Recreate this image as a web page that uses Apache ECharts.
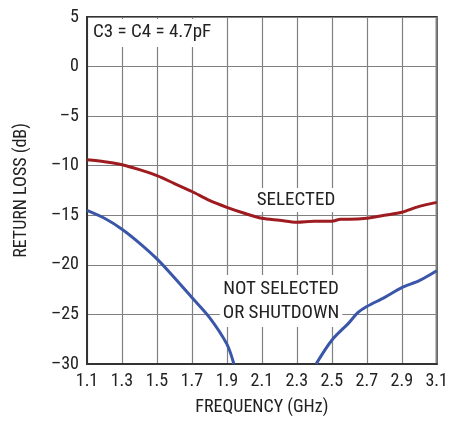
<!DOCTYPE html>
<html>
<head>
<meta charset="utf-8">
<script src="https://cdn.jsdelivr.net/npm/echarts@6/dist/echarts.min.js"></script>
<style>
  html, body { margin: 0; padding: 0; background: #fff; }
  #chart { width: 451px; height: 421px; }
</style>
</head>
<body>
<div id="chart"></div>
<script>
var FONT = "'Roboto Condensed', Roboto, sans-serif";

// frequency (GHz) vs return loss (dB)
var selFreq = [1.1, 1.2, 1.3, 1.4, 1.5, 1.6, 1.7, 1.8, 1.9, 2.0, 2.1, 2.2, 2.3, 2.4, 2.5, 2.55, 2.6, 2.7, 2.8, 2.9, 3.0, 3.1];
var selLoss = [-9.4, -9.6, -9.9, -10.4, -11.0, -11.8, -12.6, -13.5, -14.2, -14.8, -15.3, -15.5, -15.7, -15.6, -15.6, -15.4, -15.4, -15.3, -15.0, -14.7, -14.1, -13.7];

var offFreq = [1.1, 1.2, 1.3, 1.4, 1.5, 1.6, 1.7, 1.8, 1.9, 1.94, null, 2.41, 2.5, 2.6, 2.65, 2.7, 2.8, 2.9, 3.0, 3.1];
var offLoss = [-14.5, -15.3, -16.4, -17.8, -19.4, -21.3, -23.3, -25.3, -28.0, -30, null, -30, -27.6, -25.8, -24.8, -24.2, -23.3, -22.3, -21.6, -20.6];

var xTicks = [1.1, 1.3, 1.5, 1.7, 1.9, 2.1, 2.3, 2.5, 2.7, 2.9, 3.1];
var yTicks = [5, 0, -5, -10, -15, -20, -25, -30];

function pairs(xs, ys) {
    return xs.map(function (x, i) { return x === null ? [null, null] : [x, ys[i]]; });
}

var chart = echarts.init(document.getElementById("chart"));
var option = {
    animation: false,
    grid: { left: 87, top: 17, right: 12, bottom: 53, show: true, borderColor: "#333", borderWidth: 2 },
    xAxis: {
        type: "value",
        min: xTicks[0],
        max: xTicks[xTicks.length - 1],
        interval: 0.2,
        name: "FREQUENCY (GHz)",
        nameLocation: "middle",
        nameGap: 34,
        nameTextStyle: { fontFamily: FONT, fontSize: 18, color: "#222" },
        axisLine: { onZero: false, lineStyle: { color: "#333", width: 2 } },
        axisTick: { show: false },
        axisLabel: {
            fontFamily: FONT, fontSize: 18, color: "#222", margin: 8,
            formatter: function (v) { return v.toFixed(1); }
        },
        splitLine: { show: true, lineStyle: { color: "#808080", width: 1.2 } }
    },
    yAxis: {
        type: "value",
        min: yTicks[yTicks.length - 1],
        max: yTicks[0],
        interval: 5,
        name: "RETURN LOSS (dB)",
        nameLocation: "middle",
        nameGap: 57,
        nameTextStyle: { fontFamily: FONT, fontSize: 18, color: "#222" },
        axisLine: { show: true, onZero: false, lineStyle: { color: "#333", width: 2 } },
        axisTick: { show: false },
        axisLabel: {
            fontFamily: FONT, fontSize: 18, color: "#222", margin: 8,
            formatter: function (v) { return v < 0 ? "\u2013" + Math.abs(v) : String(v); }
        },
        splitLine: { show: true, lineStyle: { color: "#808080", width: 1.2 } }
    },
    graphic: [
        {
            type: "text", left: 90, top: 19, z: 20,
            style: {
                text: "C3 = C4 = 4.7pF", font: "19px " + FONT, fill: "#222",
                backgroundColor: "#fff", padding: [4, 5, 5, 3]
            }
        },
        {
            type: "text", x: 296, y: 200, z: 20,
            style: {
                text: "SELECTED", font: "19px " + FONT, fill: "#222",
                align: "center", verticalAlign: "middle",
                backgroundColor: "#fff", padding: [3, 2, 2, 2]
            }
        },
        {
            type: "text", x: 281, y: 301, z: 20,
            style: {
                text: "NOT SELECTED\nOR SHUTDOWN", font: "19px " + FONT, fill: "#222",
                align: "center", verticalAlign: "middle", lineHeight: 24,
                backgroundColor: "#fff", padding: [2, 3, 2, 3]
            }
        }
    ],
    series: [
        {
            name: "SELECTED", type: "line", smooth: 0.3, symbol: "none",
            lineStyle: { color: "#9e1b20", width: 3 },
            data: pairs(selFreq, selLoss)
        },
        {
            name: "NOT SELECTED", type: "line", smooth: 0.3, symbol: "none",
            connectNulls: false,
            lineStyle: { color: "#3a56a8", width: 3 },
            data: pairs(offFreq, offLoss)
        }
    ]
};
chart.setOption(option);
window.addEventListener("resize", chart.resize);
</script>
</body>
</html>
